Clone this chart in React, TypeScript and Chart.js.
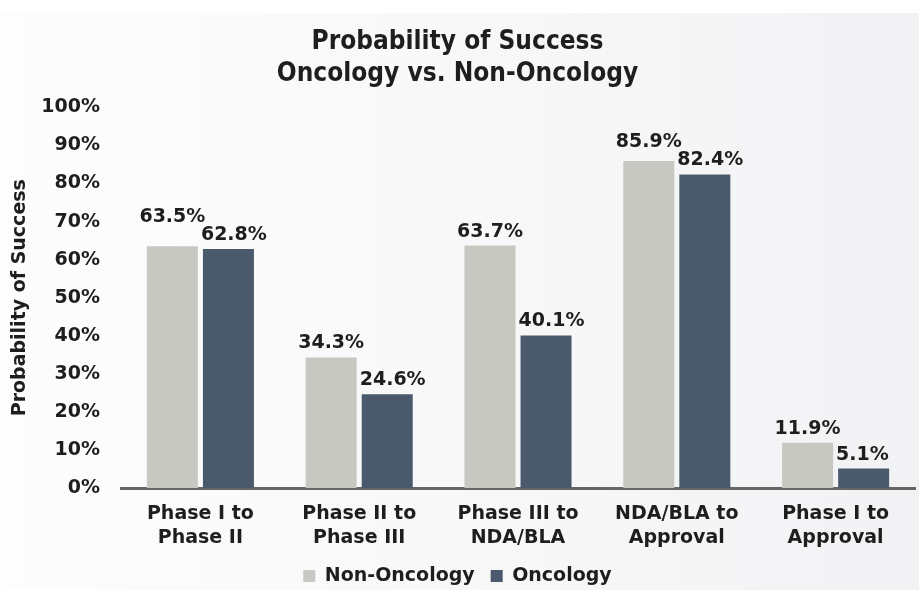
import React, { useEffect, useRef } from "react";
import { Chart, registerables } from "chart.js";

Chart.register(...registerables);

// ---- data ----
const categories: string[][] = [
  ["Phase I to", "Phase II"],
  ["Phase II to", "Phase III"],
  ["Phase III to", "NDA/BLA"],
  ["NDA/BLA to", "Approval"],
  ["Phase I to", "Approval"],
];
const seriesNames = ["Non-Oncology", "Oncology"];
const nonOncology = [63.5, 34.3, 63.7, 85.9, 11.9];
const oncology = [62.8, 24.6, 40.1, 82.4, 5.1];
const yTickValues = [0, 10, 20, 30, 40, 50, 60, 70, 80, 90, 100];
const titleLines = ["Probability of Success", "Oncology vs. Non-Oncology"];
const yAxisTitle = "Probability of Success";

// ---- styles ----
const FONT = '"DejaVu Sans", Verdana, sans-serif';
const TITLE_FONT = '"DejaVu Sans Condensed", "DejaVu Sans", sans-serif';
const TEXT = "#1e1e1e";
const GRAY = "#c8c8c2";
const SLATE = "#4a5a6c";
const FS = 19;

const backgroundPlugin = {
  id: "bgPaint",
  beforeDraw(chart: any) {
    const { ctx, width, height } = chart;
    ctx.save();
    ctx.fillStyle = "#ffffff";
    ctx.fillRect(0, 0, width, height);
    const g = ctx.createLinearGradient(0, 0, width, 0);
    g.addColorStop(0, "#fdfdfd");
    g.addColorStop(0.6, "#f7f7f8");
    g.addColorStop(1, "#f1f2f4");
    ctx.fillStyle = g;
    ctx.fillRect(0, 13, width, height - 13);
    ctx.restore();
  },
};

const valueLabelPlugin = {
  id: "valueLabels",
  afterDatasetsDraw(chart: any) {
    const { ctx } = chart;
    const m0 = chart.getDatasetMeta(0);
    const m1 = chart.getDatasetMeta(1);
    const ds0 = chart.data.datasets[0].data as number[];
    const ds1 = chart.data.datasets[1].data as number[];
    ctx.save();
    ctx.font = `bold ${FS}px ${FONT}`;
    ctx.fillStyle = TEXT;
    ctx.textBaseline = "alphabetic";
    const gap = 9;
    const capH = 14;
    for (let i = 0; i < ds0.length; i++) {
      const b0 = m0.data[i];
      const b1 = m1.data[i];
      const t0 = ds0[i].toFixed(1) + "%";
      const t1 = ds1[i].toFixed(1) + "%";
      const w0 = ctx.measureText(t0).width;
      const left1 = b1.x - b1.width / 2 - 2;
      const base1 = b1.y - gap;
      let base0 = b0.y - gap;
      const right0 = b0.x + w0 / 2;
      if (right0 > left1 && base0 > base1 - capH - 3) {
        base0 = base1 - capH - 4;
      }
      ctx.textAlign = "center";
      ctx.fillText(t0, b0.x, base0);
      ctx.textAlign = "left";
      ctx.fillText(t1, left1, base1);
    }
    ctx.restore();
  },
};

export default function App() {
  const canvasRef = useRef<HTMLCanvasElement | null>(null);

  useEffect(() => {
    document.body.style.margin = "0";
    const canvas = canvasRef.current;
    if (!canvas) return;
    const chart = new Chart(canvas, {
      type: "bar",
      data: {
        labels: categories,
        datasets: [
          {
            label: seriesNames[0],
            data: nonOncology,
            backgroundColor: GRAY,
            borderWidth: 0,
            barPercentage: 0.91,
            categoryPercentage: 0.706,
          },
          {
            label: seriesNames[1],
            data: oncology,
            backgroundColor: SLATE,
            borderWidth: 0,
            barPercentage: 0.91,
            categoryPercentage: 0.706,
          },
        ],
      },
      options: {
        animation: false,
        responsive: true,
        maintainAspectRatio: false,
        layout: { padding: { left: 0, right: 4, top: 0, bottom: -5.5 } },
        plugins: {
          title: {
            display: true,
            text: titleLines,
            color: TEXT,
            font: { family: TITLE_FONT, size: 26, weight: "bold", lineHeight: 1.2 },
            padding: { top: 27, bottom: 18 },
          },
          legend: {
            display: true,
            position: "bottom",
            labels: {
              color: TEXT,
              font: { family: FONT, size: FS, weight: "bold" },
              boxWidth: 12,
              boxHeight: 12,
              padding: 16,
            },
          },
          tooltip: { enabled: false },
        },
        scales: {
          x: {
            afterFit(scale: any) {
              scale.height = 62.5;
            },
            grid: { display: false, drawTicks: false },
            border: { display: true, color: "#666666", width: 3 },
            ticks: {
              color: TEXT,
              font: { family: FONT, size: FS, weight: "bold", lineHeight: 1.263 },
              padding: 14.5,
              maxRotation: 0,
              autoSkip: false,
            },
          },
          y: {
            min: 0,
            max: 100,
            afterFit(scale: any) {
              scale.width = 121;
            },
            afterBuildTicks(scale: any) {
              scale.ticks = yTickValues.map((v) => ({ value: v }));
            },
            grid: { display: false, drawTicks: false },
            border: { display: false },
            ticks: {
              color: TEXT,
              font: { family: FONT, size: FS, weight: "bold" },
              padding: 21,
              callback: (v: any) => `${v}%`,
            },
            title: {
              display: true,
              text: yAxisTitle,
              color: TEXT,
              font: { family: FONT, size: 19, weight: "bold" },
              padding: { top: 9, bottom: 0 },
            },
          },
        },
      },
      plugins: [backgroundPlugin, valueLabelPlugin],
    } as any);
    return () => chart.destroy();
  }, []);

  return (
    <div style={{ width: 919, height: 590, position: "relative" }}>
      <canvas ref={canvasRef} />
    </div>
  );
}
